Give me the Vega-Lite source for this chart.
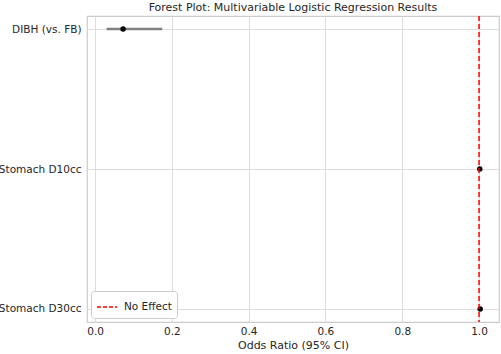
{
  "$schema": "https://vega.github.io/schema/vega-lite/v6.json",
  "width": 412,
  "height": 306,
  "autosize": {"type": "none"},
  "padding": {"left": 87, "top": 16, "right": 2, "bottom": 32},
  "background": "white",
  "title": {"text": "Forest Plot: Multivariable Logistic Regression Results", "font": "DejaVu Sans", "fontSize": 11, "fontWeight": "normal", "color": "#262626", "offset": 2},
  "config": {
    "font": "DejaVu Sans",
    "view": {"stroke": "#cccccc", "strokeWidth": 1.2},
    "axis": {"labelFont": "DejaVu Sans", "titleFont": "DejaVu Sans", "labelColor": "#262626", "titleColor": "#262626", "labelFontSize": 10.5, "titleFontSize": 11, "titleFontWeight": "normal", "ticks": false, "domain": false, "gridColor": "#dddddd", "gridWidth": 1}
  },
  "layer": [
    {
      "data": {"values": [
        {"variable": "DIBH (vs. FB)", "or": 0.073, "lo": 0.03, "hi": 0.175},
        {"variable": "Stomach D10cc", "or": 1.002, "lo": 1.0, "hi": 1.004},
        {"variable": "Stomach D30cc", "or": 1.003, "lo": 1.001, "hi": 1.005}
      ]},
      "mark": {"type": "rule", "color": "#808080", "strokeWidth": 2.5},
      "encoding": {
        "y": {"field": "variable", "type": "nominal", "scale": {"type": "point", "padding": 0.093}, "sort": null, "axis": {"title": null, "grid": true, "labelPadding": 6}},
        "x": {"field": "lo", "type": "quantitative", "scale": {"domain": [-0.021, 1.052], "nice": false, "zero": false}, "axis": {"title": "Odds Ratio (95% CI)", "values": [0, 0.2, 0.4, 0.6, 0.8, 1.0], "format": ".1f", "grid": true, "labelPadding": 4, "titlePadding": 3}},
        "x2": {"field": "hi"}
      }
    },
    {
      "data": {"values": [
        {"variable": "DIBH (vs. FB)", "or": 0.073},
        {"variable": "Stomach D10cc", "or": 1.002},
        {"variable": "Stomach D30cc", "or": 1.003}
      ]},
      "mark": {"type": "point", "filled": true, "color": "black", "opacity": 1, "size": 30},
      "encoding": {
        "y": {"field": "variable", "type": "nominal", "sort": null},
        "x": {"field": "or", "type": "quantitative"}
      }
    },
    {
      "data": {"values": [{"x": 1, "label": "No Effect"}]},
      "mark": {"type": "rule", "strokeDash": [5, 3], "strokeWidth": 1.5},
      "encoding": {
        "x": {"field": "x", "type": "quantitative"},
        "color": {"field": "label", "type": "nominal", "scale": {"domain": ["No Effect"], "range": ["#ff0000"]}, "legend": {"title": null, "orient": "bottom-left", "offset": 4, "fillColor": "white", "strokeColor": "#cccccc", "cornerRadius": 3, "padding": 5, "symbolType": "stroke", "symbolDash": [4, 2], "symbolStrokeWidth": 1.5, "symbolSize": 400, "labelOffset": 6, "labelFontSize": 10.5, "labelColor": "#262626", "labelFont": "DejaVu Sans"}}
      }
    }
  ]
}
